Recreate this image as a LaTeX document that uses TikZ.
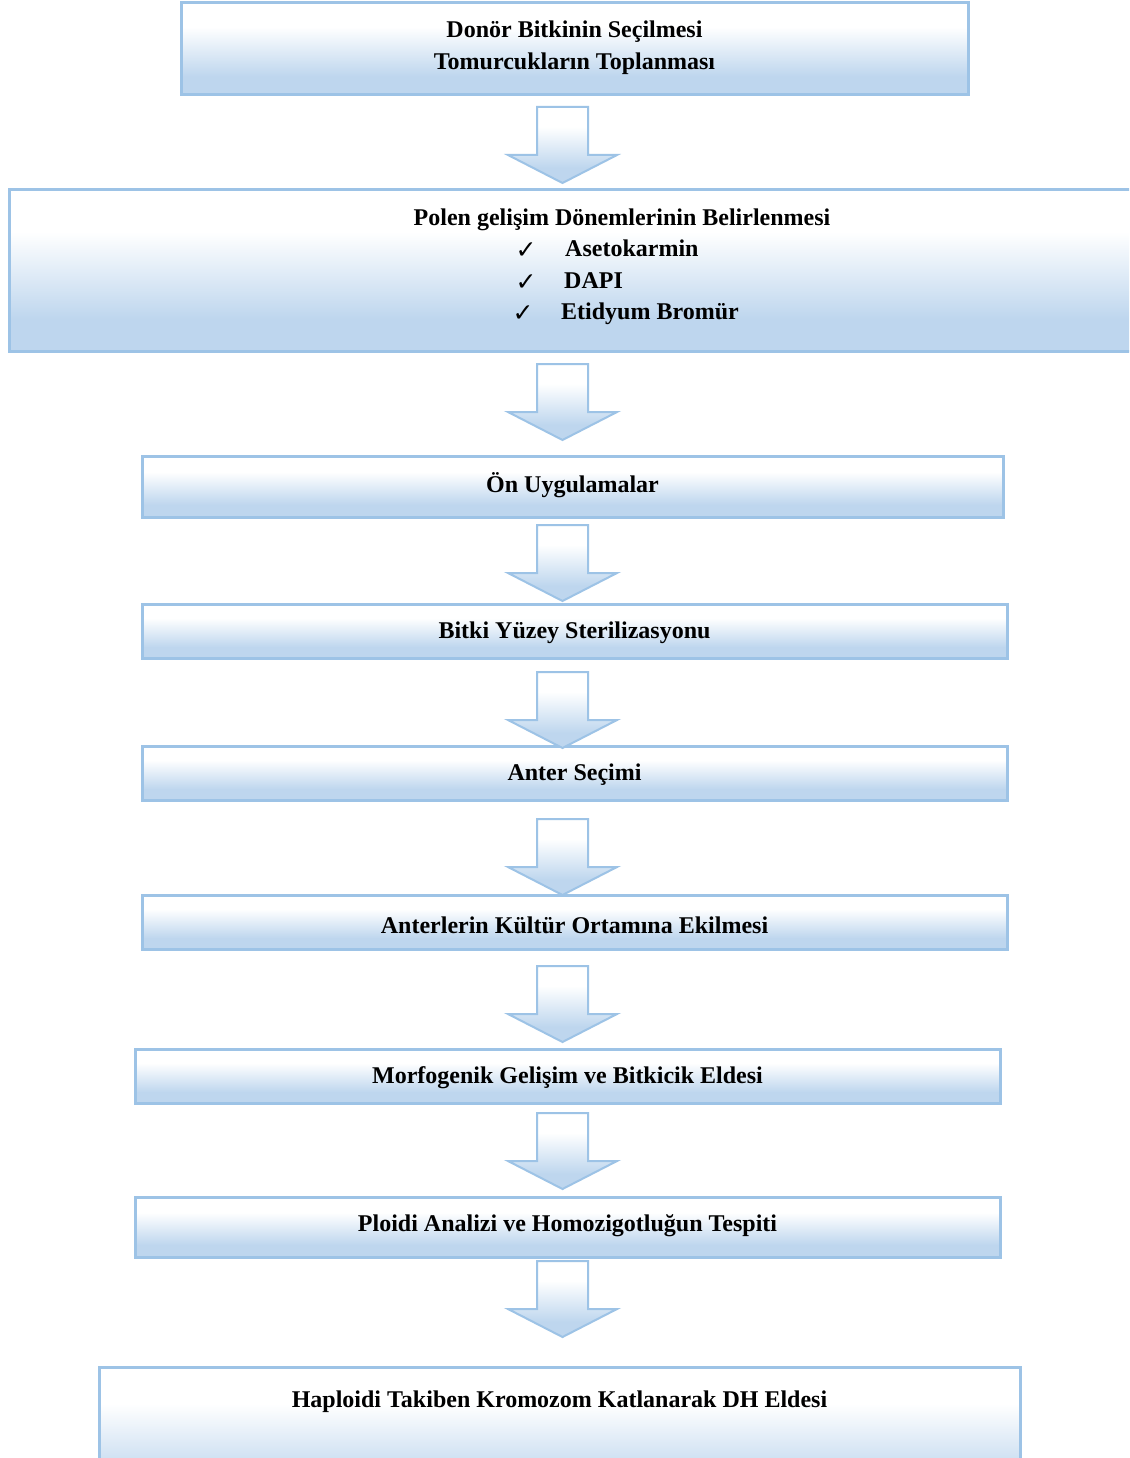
\documentclass[tikz,border=0pt]{standalone}
\usepackage{fontspec}
\setmainfont{Liberation Serif}
\newfontfamily\symfont{DejaVu Sans}
\definecolor{bfill}{RGB}{190,214,238}
\definecolor{bline}{RGB}{157,195,230}
\pgfdeclareverticalshading{boxshade}{100bp}{color(0bp)=(bfill); color(35bp)=(bfill); color(62bp)=(white); color(100bp)=(white)}
\tikzset{
  stepbox/.style={draw=bline, line width=3pt, shading=boxshade, rectangle, inner sep=0pt},
  steptext/.style={inner sep=0pt, yshift=-3pt, font=\bfseries\fontsize{24}{32}\selectfont, align=center},
  itemtext/.style={steptext, anchor=mid west, yshift=-3pt},
  checkmark/.style={inner sep=0pt, yshift=-5pt, font=\symfont\fontsize{25}{28}\selectfont},
  flowarrow/.style={draw=bline, line width=2pt, shading=boxshade, line join=miter},
  downarrow/.pic={\path[flowarrow] (-25.5,0) -- (25.5,0) -- (25.5,48) -- (54.5,48) -- (0,76) -- (-54.5,48) -- (-25.5,48) -- cycle;}
}
\begin{document}
\begin{tikzpicture}[x=1pt,y=-1pt]
\useasboundingbox (0,0) rectangle (1129,1458);
\clip (0,0) rectangle (1129,1458);
\fill[white] (0,0) rectangle (1129,1458);
% boxes
\node[stepbox, minimum width=787, minimum height=92] (b1) at (574.5,49) {};
\node[steptext] (t1) at (574.5,45) {Donör Bitkinin Seçilmesi\\Tomurcukların Toplanması};
\node[stepbox, minimum width=1227, minimum height=161] (b2) at (622.5,270.5) {};
\node[steptext] (t2) at (622,217) {Polen gelişim Dönemlerinin Belirlenmesi};
\node[checkmark] (c1) at (526,246) {✓};
\node[itemtext] (i1) at (565,248) {Asetokarmin};
\node[checkmark] (c2) at (526,278) {✓};
\node[itemtext] (i2) at (564,280) {DAPI};
\node[checkmark] (c3) at (523,309) {✓};
\node[itemtext] (i3) at (561,311) {Etidyum Bromür};
\node[stepbox, minimum width=861, minimum height=61] (b3) at (572.5,486.5) {};
\node[steptext] (t3) at (572.5,482) {Ön Uygulamalar};
\node[stepbox, minimum width=865, minimum height=54] (b4) at (574.5,631) {};
\node[steptext] (t4) at (574.5,630) {Bitki Yüzey Sterilizasyonu};
\node[stepbox, minimum width=865, minimum height=54] (b5) at (574.5,773) {};
\node[steptext] (t5) at (574.5,772) {Anter Seçimi};
\node[stepbox, minimum width=865, minimum height=54] (b6) at (574.5,922) {};
\node[steptext] (t6) at (574.5,922) {Anterlerin Kültür Ortamına Ekilmesi};
\node[stepbox, minimum width=865, minimum height=54] (b7) at (567.5,1076) {};
\node[steptext] (t7) at (567.5,1075) {Morfogenik Gelişim ve Bitkicik Eldesi};
\node[stepbox, minimum width=865, minimum height=60] (b8) at (567.5,1227) {};
\node[steptext] (t8) at (567.5,1223) {Ploidi Analizi ve Homozigotluğun Tespiti};
\node[stepbox, minimum width=921, minimum height=140, anchor=north] (b9) at (559.5,1366) {};
\node[steptext] (t9) at (559.5,1399) {Haploidi Takiben Kromozom Katlanarak DH Eldesi};
% block arrows
\pic at (562.5,107) {downarrow};
\pic at (562.5,364) {downarrow};
\pic at (562.5,525) {downarrow};
\pic at (562.5,672) {downarrow};
\pic at (562.5,819) {downarrow};
\pic at (562.5,966) {downarrow};
\pic at (562.5,1113) {downarrow};
\pic at (562.5,1261) {downarrow};
\end{tikzpicture}
\end{document}
